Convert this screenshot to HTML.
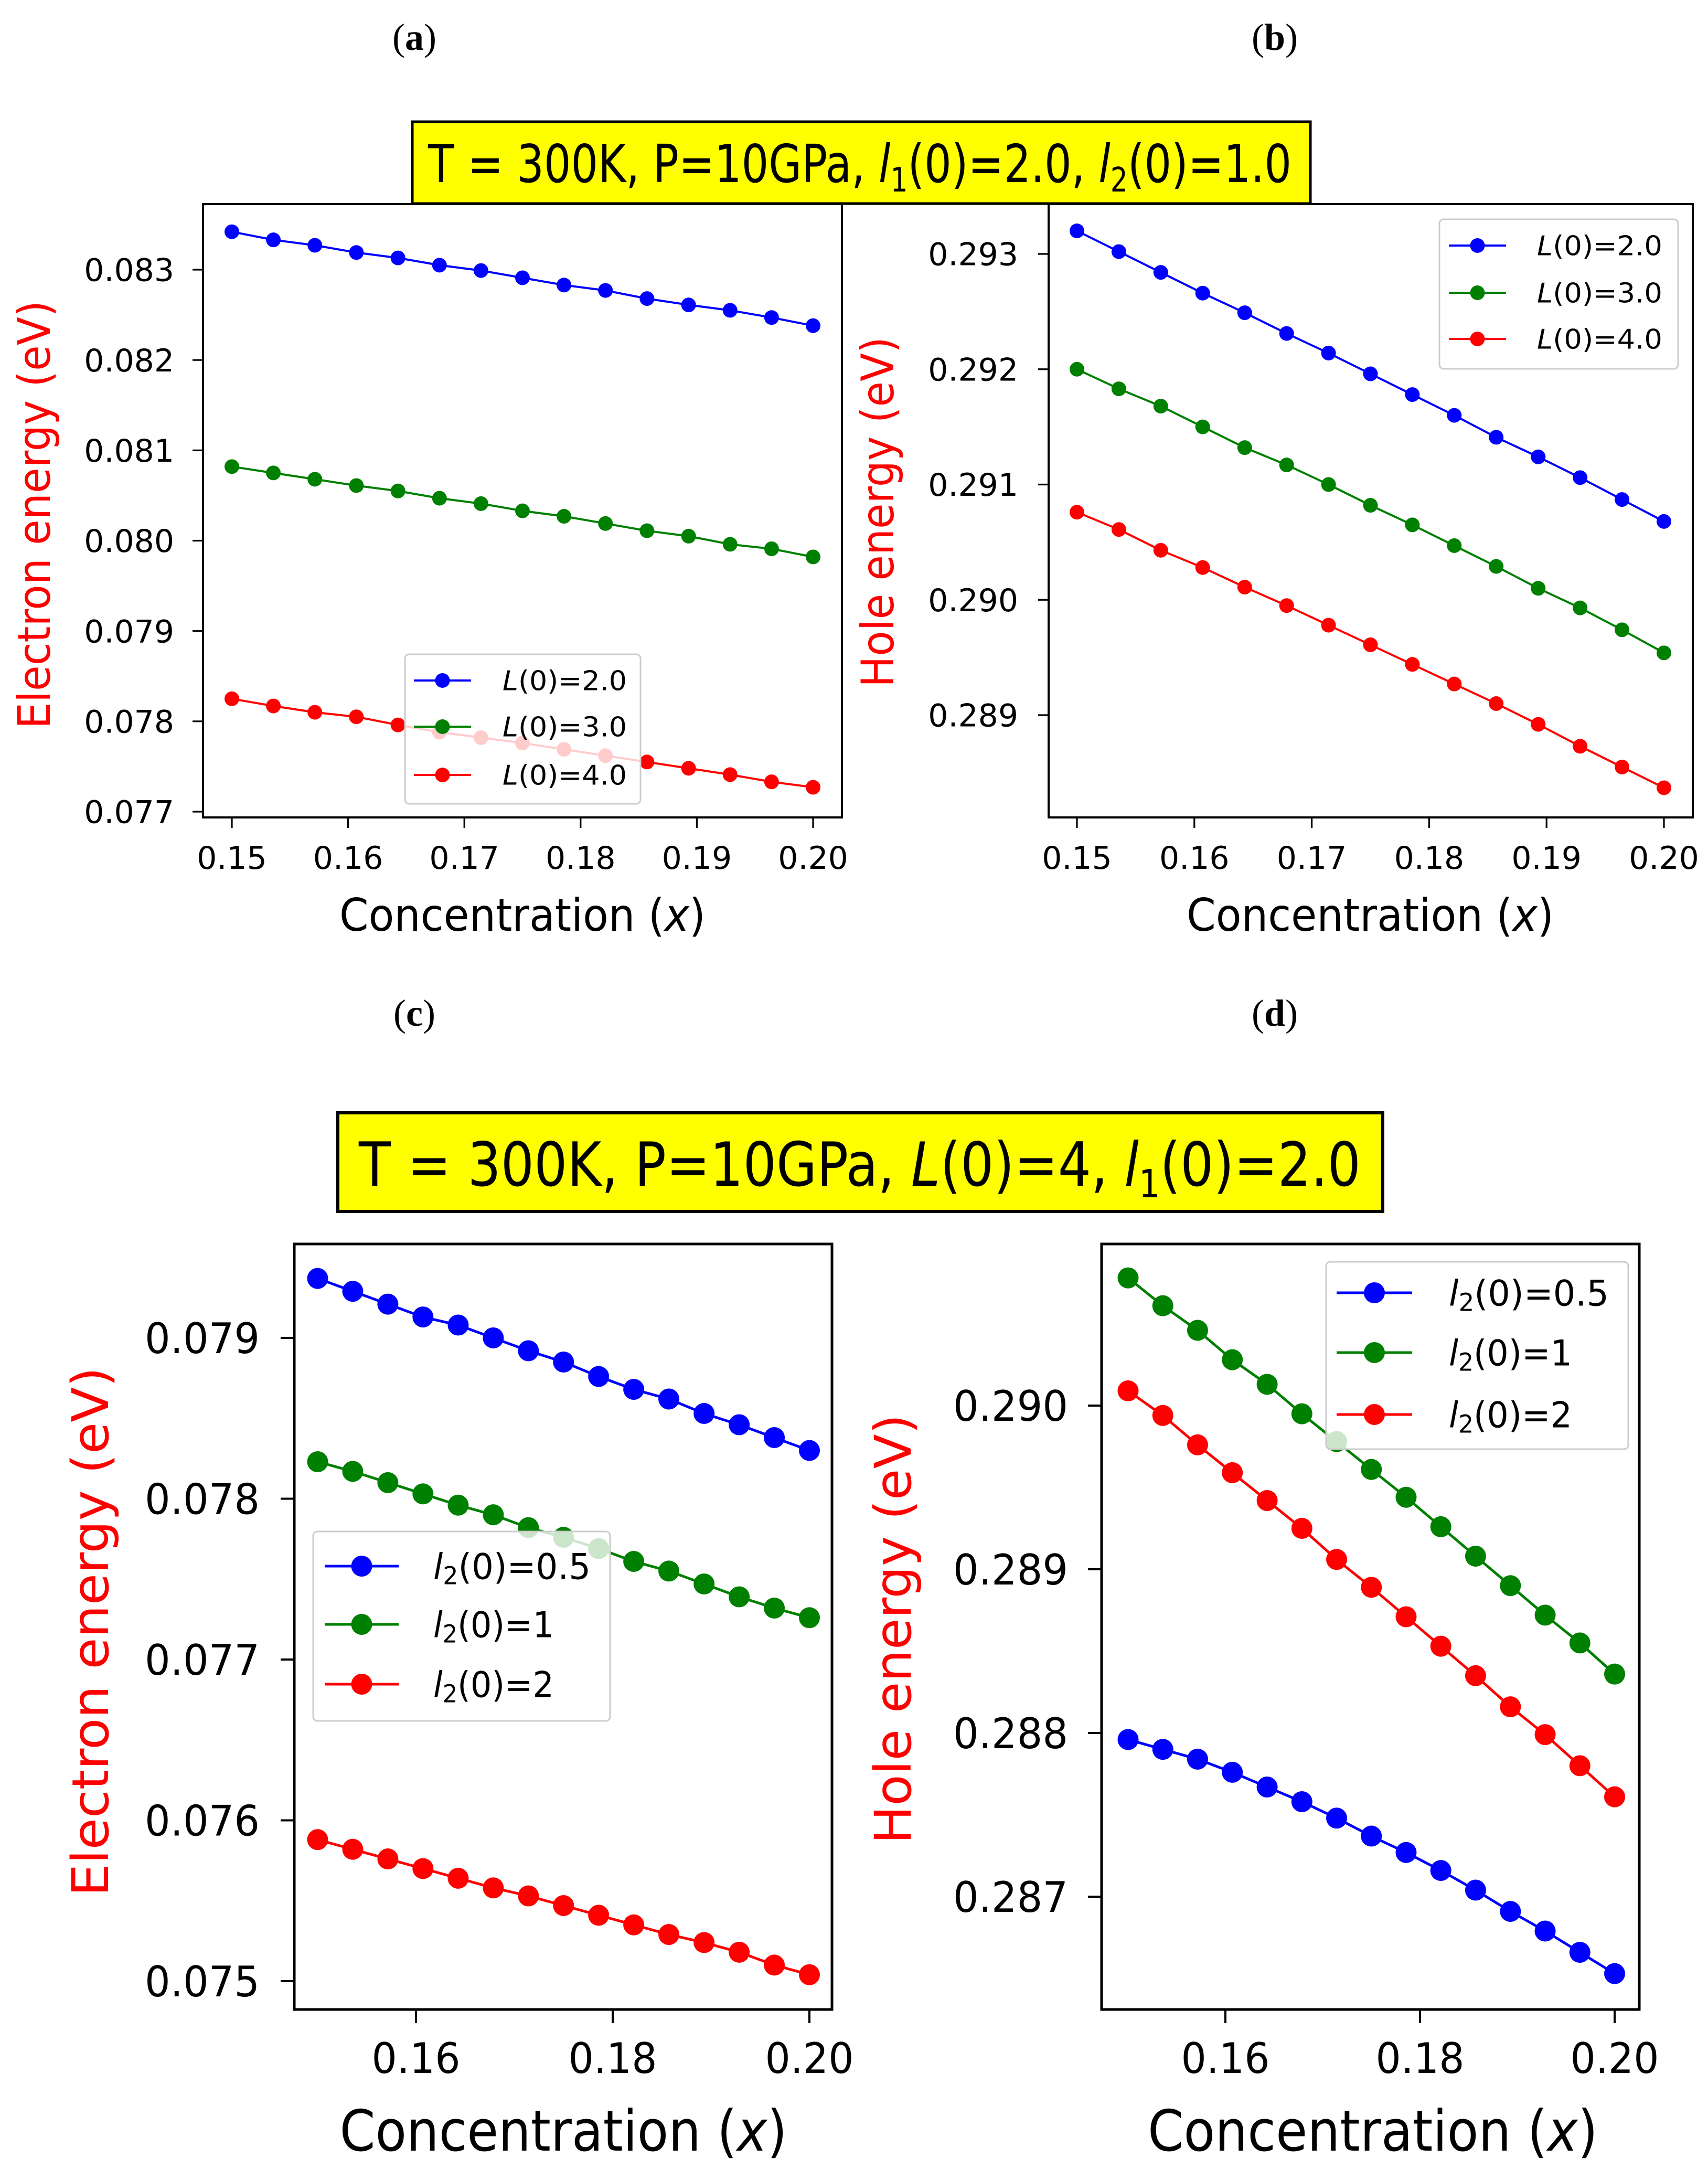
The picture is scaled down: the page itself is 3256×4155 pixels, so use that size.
<!DOCTYPE html>
<html><head><meta charset="utf-8">
<style>
html,body{margin:0;padding:0;background:#fff;}
svg{display:block;}
text{font-family:"DejaVu Sans","Liberation Sans",sans-serif;}
</style></head>
<body>
<svg id="fig" xmlns="http://www.w3.org/2000/svg" width="3256" height="4155" viewBox="0 0 3256 4155">
<rect width="3256" height="4155" fill="#fff"/>
<text x="790" y="95" font-size="72" text-anchor="middle" style="font-family:'Liberation Serif',serif">(<tspan font-weight="bold">a</tspan>)</text>
<text x="2430" y="95" font-size="72" text-anchor="middle" style="font-family:'Liberation Serif',serif">(<tspan font-weight="bold">b</tspan>)</text>
<text x="790" y="1955" font-size="72" text-anchor="middle" style="font-family:'Liberation Serif',serif">(<tspan font-weight="bold">c</tspan>)</text>
<text x="2430" y="1955" font-size="72" text-anchor="middle" style="font-family:'Liberation Serif',serif">(<tspan font-weight="bold">d</tspan>)</text>

<g>
<rect x="786" y="232" width="1712" height="156" fill="#ffff00" stroke="#000" stroke-width="5"/>
<text x="816" y="347" font-size="100" textLength="1646" lengthAdjust="spacingAndGlyphs">T = 300K, P=10GPa, <tspan font-style="italic">l</tspan><tspan font-size="64" dy="18">1</tspan><tspan dy="-18">(0)=2.0, </tspan><tspan font-style="italic">l</tspan><tspan font-size="64" dy="18">2</tspan><tspan dy="-18">(0)=1.0</tspan></text>
</g>
<g>
<rect x="644" y="2121" width="1992" height="188" fill="#ffff00" stroke="#000" stroke-width="6"/>
<text x="684" y="2260" font-size="116" textLength="1910" lengthAdjust="spacingAndGlyphs">T = 300K, P=10GPa, <tspan font-style="italic">L</tspan><tspan>(0)=4, </tspan><tspan font-style="italic">l</tspan><tspan font-size="74" dy="22">1</tspan><tspan dy="-22">(0)=2.0</tspan></text>
</g>
<g id="plots"></g>
</svg>
<script>
const xValues = [0.15,0.15357,0.15714,0.16071,0.16429,0.16786,0.17143,0.175,0.17857,0.18214,0.18571,0.18929,0.19286,0.19643,0.2];

const aBlue  = [0.08342,0.08333,0.08327,0.08319,0.08313,0.08305,0.08299,0.08291,0.08283,0.08277,0.08268,0.08261,0.08255,0.08247,0.08238];
const aGreen = [0.08082,0.08075,0.08068,0.08061,0.08055,0.08047,0.08041,0.08033,0.08027,0.08019,0.08011,0.08005,0.07996,0.07991,0.07982];
const aRed   = [0.07825,0.07817,0.07810,0.07805,0.07796,0.07788,0.07782,0.07776,0.07769,0.07762,0.07755,0.07748,0.07741,0.07733,0.07727];

const bBlue  = [0.29320,0.29302,0.29284,0.29266,0.29249,0.29231,0.29214,0.29196,0.29178,0.29160,0.29141,0.29124,0.29106,0.29087,0.29068];
const bGreen = [0.29200,0.29183,0.29168,0.29150,0.29132,0.29117,0.29100,0.29082,0.29065,0.29047,0.29029,0.29010,0.28993,0.28974,0.28954];
const bRed   = [0.29076,0.29061,0.29043,0.29028,0.29011,0.28995,0.28978,0.28961,0.28944,0.28927,0.28910,0.28892,0.28873,0.28855,0.28837];

const cBlue  = [0.07937,0.07929,0.07921,0.07913,0.07908,0.07900,0.07892,0.07885,0.07876,0.07868,0.07862,0.07853,0.07846,0.07838,0.07830];
const cGreen = [0.07823,0.07817,0.07810,0.07803,0.07796,0.07790,0.07782,0.07776,0.07769,0.07761,0.07755,0.07747,0.07739,0.07732,0.07726];
const cRed   = [0.07588,0.07582,0.07576,0.07570,0.07564,0.07558,0.07553,0.07547,0.07541,0.07535,0.07529,0.07524,0.07518,0.07510,0.07504];

const dBlue  = [0.28796,0.28790,0.28784,0.28776,0.28767,0.28758,0.28748,0.28737,0.28727,0.28716,0.28704,0.28691,0.28679,0.28666,0.28653];
const dGreen = [0.29078,0.29061,0.29046,0.29028,0.29013,0.28995,0.28978,0.28961,0.28944,0.28926,0.28908,0.28890,0.28872,0.28855,0.28836];
const dRed   = [0.29009,0.28994,0.28976,0.28959,0.28942,0.28925,0.28906,0.28889,0.28871,0.28853,0.28835,0.28816,0.28799,0.28780,0.28761];

const xTicksTop = [0.15,0.16,0.17,0.18,0.19,0.20];
const xTickLabelsTop = ["0.15","0.16","0.17","0.18","0.19","0.20"];
const xTicksBot = [0.16,0.18,0.20];
const xTickLabelsBot = ["0.16","0.18","0.20"];
const aYTicks = [0.077,0.078,0.079,0.080,0.081,0.082,0.083];
const aYLabels = ["0.077","0.078","0.079","0.080","0.081","0.082","0.083"];
const bYTicks = [0.289,0.290,0.291,0.292,0.293];
const bYLabels = ["0.289","0.290","0.291","0.292","0.293"];
const cYTicks = [0.075,0.076,0.077,0.078,0.079];
const cYLabels = ["0.075","0.076","0.077","0.078","0.079"];
const dYTicks = [0.287,0.288,0.289,0.290];
const dYLabels = ["0.287","0.288","0.289","0.290"];
const legendTop = ["L(0)=2.0","L(0)=3.0","L(0)=4.0"];
const legendBot = ["l2(0)=0.5","l2(0)=1","l2(0)=2"];

const NS = "http://www.w3.org/2000/svg";
const root = document.getElementById('plots');
function mk(tag, attrs, parent){
  const e = document.createElementNS(NS, tag);
  for (const k in attrs) e.setAttribute(k, attrs[k]);
  parent.appendChild(e);
  return e;
}
const colors = ["#0000ff","#008000","#ff0000"];
const colNames = ["blue","green","red"];

function panel(c){
  const g = mk('g', {}, root);
  
  
  const X = v => c.x0 + (v - c.xv0) / (c.xv1 - c.xv0) * (c.x1px - c.x0);
  const Y = v => c.y0 + (v - c.yv0) / (c.yv1 - c.yv0) * (c.y1px - c.y0);
  const box = mk('rect', {x:c.L, y:c.T, width:c.R-c.L, height:c.B-c.T, fill:'#fff', stroke:'#000', 'stroke-width':c.aw}, g);
  
  
  c.xt.forEach((v,i)=>{
    const px = X(v);
    mk('line', {x1:px, x2:px, y1:c.B, y2:c.B+c.tl, stroke:'#000','stroke-width':c.aw*0.8}, g);
    const at = {x:px, y:c.xtb, 'font-size':c.tf, 'text-anchor':'middle', fill:'#000'};
    if (c.xtw) { at.textLength = c.xtw; at.lengthAdjust = 'spacingAndGlyphs'; }
    const t = mk('text', at, g);
    
    
    t.textContent = c.xl[i];
  });
  c.yt.forEach((v,i)=>{
    const py = Y(v);
    mk('line', {x1:c.L-c.tl, x2:c.L, y1:py, y2:py, stroke:'#000','stroke-width':c.aw*0.8}, g);
    const at = {x:c.ytr, y:py + c.tf*0.36, 'font-size':c.tf, 'text-anchor':'end', fill:'#000'};
    if (c.ytw) { at.textLength = c.ytw; at.lengthAdjust = 'spacingAndGlyphs'; }
    const t = mk('text', at, g);
    
    
    t.textContent = c.yl[i];
  });
  const xt = mk('text', {x:c.xlc, y:c.xlb, 'font-size':c.lf, 'text-anchor':'middle', fill:'#000', textLength:c.xlw, lengthAdjust:'spacingAndGlyphs'}, g);
  
  
  xt.innerHTML = 'Concentration (<tspan font-style="italic">x</tspan>)';
  const yt = mk('text', {x:0, y:0, 'font-size':c.ylf || c.lf, 'text-anchor':'middle', fill:'#ff0000', textLength:c.ylw, lengthAdjust:'spacingAndGlyphs', transform:`translate(${c.ylx},${c.ylc}) rotate(-90)`}, g);
  
  
  yt.textContent = c.ytitle;
  c.series.forEach((s,si)=>{
    const sg = mk('g', {}, g);
    
    
    const pts = xValues.map((xv,i)=> X(xv).toFixed(1)+','+Y(s[i]).toFixed(1)).join(' ');
    mk('polyline', {points:pts, fill:'none', stroke:colors[si], 'stroke-width':c.lw}, sg);
    xValues.forEach((xv,i)=>{
      const p = mk('circle', {cx:X(xv), cy:Y(s[i]), r:c.mr, fill:colors[si]}, sg);
      
      
    });
  });
  const lg = mk('g', {}, g);
  
  
  mk('rect', {x:c.lgx, y:c.lgy, width:c.lgw, height:c.lgh, rx:8, fill:'#fff', 'fill-opacity':0.8, stroke:'#cccccc', 'stroke-width':3}, lg);
  c.leg.forEach((lab,i)=>{
    const e = mk('g', {}, lg);
    
    
    const yy = c.ley[i];
    mk('line', {x1:c.lx1, x2:c.lx2, y1:yy, y2:yy, stroke:colors[i], 'stroke-width':c.lw}, e);
    mk('circle', {cx:(c.lx1+c.lx2)/2, cy:yy, r:c.mr, fill:colors[i]}, e);
    const t = mk('text', {x:c.ltx, y:yy + c.lef*0.36, 'font-size':c.lef, fill:'#000', textLength:c.ltw[i], lengthAdjust:'spacingAndGlyphs'}, e);
    if (lab[0]==='L') t.innerHTML = '<tspan font-style="italic">L</tspan>' + lab.slice(1);
    else t.innerHTML = '<tspan font-style="italic">l</tspan><tspan font-size="'+(c.lef*0.7)+'" dy="'+(c.lef*0.15)+'">2</tspan><tspan dy="'+(-c.lef*0.15)+'">' + lab.slice(2) + '</tspan>';
  });
}

panel({id:'a', L:387,R:1605,T:389,B:1558, x0:442,x1px:1550,xv0:0.15,xv1:0.20, y0:514,y1px:1547,yv0:0.083,yv1:0.077,
  aw:4, tl:20, tf:60, xtb:1656, ytr:332, xt:xTicksTop, xl:xTickLabelsTop, yt:aYTicks, yl:aYLabels,
  lf:86, xlc:996, xlb:1774, xlw:698, ylx:95, ylc:981, ylw:816, ytitle:'Electron energy (eV)',
  series:[aBlue,aGreen,aRed], lw:4, mr:14,
  lgx:772,lgy:1247,lgw:449,lgh:285, ley:[1297,1385,1477], lx1:789,lx2:898, ltx:958, ltw:[237,237,237], lef:52, leg:legendTop});

panel({id:'b', L:1999,R:3227,T:389,B:1558, x0:2053,x1px:3172,xv0:0.15,xv1:0.20, y0:484,y1px:1363,yv0:0.293,yv1:0.289,
  aw:4, tl:20, tf:60, xtb:1656, ytr:1941, xt:xTicksTop, xl:xTickLabelsTop, yt:bYTicks, yl:bYLabels,
  lf:86, xlc:2612, xlb:1774, xlw:700, ylx:1703, ylc:976, ylw:668, ytitle:'Hole energy (eV)',
  series:[bBlue,bGreen,bRed], lw:4, mr:14,
  lgx:2744,lgy:418,lgw:455,lgh:285, ley:[468,558,646], lx1:2762,lx2:2871, ltx:2930, ltw:[239,239,239], lef:52, leg:legendTop});

panel({id:'c', L:561,R:1586,T:2371,B:3830, x0:793,x1px:1543,xv0:0.16,xv1:0.20, y0:2550,y1px:3776,yv0:0.079,yv1:0.075,
  aw:5, tl:26, tf:80, xtb:3951, ytr:495, xtw:169, ytw:219, xt:xTicksBot, xl:xTickLabelsBot, yt:cYTicks, yl:cYLabels,
  lf:108, xlc:1074, xlb:4099, xlw:853, ylx:206, ylf:96, ylc:3110, ylw:1009, ytitle:'Electron energy (eV)',
  series:[cBlue,cGreen,cRed], lw:5, mr:20,
  lgx:597,lgy:2919,lgw:566,lgh:361, ley:[2985,3096,3210], lx1:619,lx2:760, ltx:826, ltw:[300,230,230], lef:68, leg:legendBot});

panel({id:'d', L:2100,R:3125,T:2371,B:3830, x0:2336,x1px:3078,xv0:0.16,xv1:0.20, y0:2679,y1px:3615,yv0:0.290,yv1:0.287,
  aw:5, tl:26, tf:80, xtb:3951, ytr:2036, xtw:169, ytw:219, xt:xTicksBot, xl:xTickLabelsBot, yt:dYTicks, yl:dYLabels,
  lf:108, xlc:2617, xlb:4099, xlw:858, ylx:1736, ylf:96, ylc:3105, ylw:819, ytitle:'Hole energy (eV)',
  series:[dBlue,dGreen,dRed], lw:5, mr:20,
  lgx:2528,lgy:2405,lgw:576,lgh:357, ley:[2464,2578,2696], lx1:2548,lx2:2692, ltx:2762, ltw:[305,235,235], lef:68, leg:legendBot});
</script>
</body></html>
